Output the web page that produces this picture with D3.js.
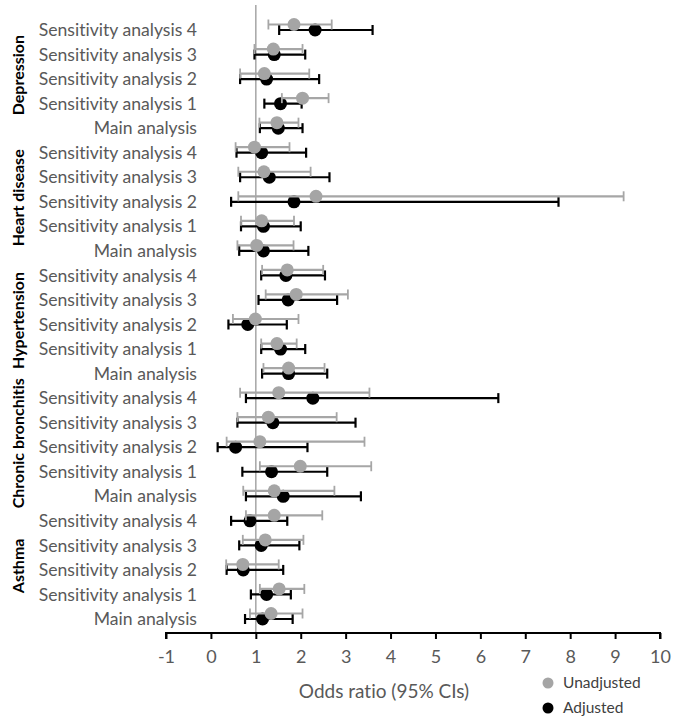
<!DOCTYPE html>
<html>
<head>
<meta charset="utf-8">
<script src="https://cdn.jsdelivr.net/npm/d3@7"></script>
<style>
  html, body { margin: 0; padding: 0; background: #fff; }
  svg { display: block; font-family: Lato, "Open Sans", sans-serif; font-variant-ligatures: none; }
</style>
</head>
<body>
<svg id="chart" width="694" height="719"></svg>
<script>
// ---- data (top to bottom) ----
const groups = ["Depression", "Heart disease", "Hypertension", "Chronic bronchitis", "Asthma"];
const analyses = ["Sensitivity analysis 4", "Sensitivity analysis 3", "Sensitivity analysis 2", "Sensitivity analysis 1", "Main analysis"];
const unadjOR = [1.85, 1.39, 1.19, 2.04, 1.47,  0.97, 1.18, 2.34, 1.13, 1.02,  1.70, 1.90, 0.99, 1.47, 1.73,  1.51, 1.28, 1.09, 1.99, 1.41,  1.41, 1.21, 0.71, 1.52, 1.34];
const unadjLo = [1.28, 0.97, 0.65, 1.58, 1.08,  0.55, 0.61, 0.61, 0.67, 0.59,  1.14, 1.22, 0.49, 1.12, 1.17,  0.65, 0.59, 0.35, 1.09, 0.72,  0.78, 0.71, 0.34, 1.09, 0.87];
const unadjHi = [2.69, 2.04, 2.19, 2.62, 1.95,  1.75, 2.22, 9.19, 1.85, 1.84,  2.50, 3.05, 1.95, 1.91, 2.53,  3.53, 2.80, 3.42, 3.57, 2.75,  2.48, 2.06, 1.51, 2.08, 2.04];
const adjOR   = [2.32, 1.41, 1.24, 1.55, 1.50,  1.13, 1.30, 1.85, 1.17, 1.17,  1.67, 1.72, 0.82, 1.55, 1.73,  2.27, 1.38, 0.55, 1.35, 1.61,  0.87, 1.12, 0.72, 1.24, 1.15];
const adjLo   = [1.52, 0.97, 0.65, 1.19, 1.09,  0.57, 0.65, 0.45, 0.67, 0.63,  1.12, 1.06, 0.39, 1.12, 1.14,  0.78, 0.59, 0.15, 0.70, 0.78,  0.45, 0.63, 0.35, 0.89, 0.76];
const adjHi   = [3.60, 2.10, 2.41, 2.02, 2.04,  2.12, 2.64, 7.74, 2.00, 2.17,  2.54, 2.81, 1.69, 2.10, 2.59,  6.40, 3.22, 2.15, 2.59, 3.34,  1.70, 1.97, 1.61, 1.78, 1.82];
const xTicks = [-1, 0, 1, 2, 3, 4, 5, 6, 7, 8, 9, 10];
const seriesNames = ["Unadjusted", "Adjusted"];

// ---- build rows ----
const rows = [];
groups.forEach((g, gi) => analyses.forEach((a, ai) => {
  const i = gi * analyses.length + ai;
  rows.push({ id: i, group: g, label: a,
    u: unadjOR[i], ul: unadjLo[i], uh: unadjHi[i],
    a: adjOR[i], al: adjLo[i], ah: adjHi[i] });
}));

const svg = d3.select("#chart");
const x = d3.scaleLinear().domain([-1, 10]).range([166, 660]);
const y = d3.scalePoint().domain(rows.map(r => r.id)).range([30, 619]);
const axisY = 633;
const offU = -5.5;

const grayDot = "#a5a5a5";
const grayBar = "#a6a6a6";
const textGray = "#595959";

// reference line at OR = 1
svg.append("line")
  .attr("x1", x(1)).attr("x2", x(1))
  .attr("y1", 5).attr("y2", axisY)
  .attr("stroke", "#a5a5a5").attr("stroke-width", 1.5);

// x axis
const axis = d3.axisBottom(x).tickValues(xTicks).tickSize(6).tickPadding(11).tickFormat(d => String(d));
const ax = svg.append("g").attr("transform", `translate(0,${axisY})`).call(axis);
ax.select(".domain").attr("stroke", "#000").attr("stroke-width", 2).attr("d", `M${x(-1)},6V0H${x(10)}V6`);
ax.selectAll(".tick line").attr("stroke", "#000").attr("stroke-width", 2);
ax.selectAll(".tick text").attr("fill", textGray).style("font-size", "18px").attr("font-family", "Lato, sans-serif");

svg.append("text")
  .attr("x", 384).attr("y", 698)
  .attr("text-anchor", "middle")
  .attr("fill", textGray).style("font-size", "19px")
  .text("Odds ratio (95% CIs)");

// row labels
svg.append("g").selectAll("text").data(rows).join("text")
  .attr("x", 197).attr("y", d => y(d.id)).attr("dy", "0.35em")
  .attr("text-anchor", "end").attr("fill", textGray).style("font-size", "17.6px")
  .text(d => d.label);

// group labels
svg.append("g").selectAll("text").data(groups).join("text")
  .attr("transform", (g, gi) => {
    const ids = rows.filter(r => r.group === g).map(r => y(r.id));
    const cy = (d3.min(ids) + d3.max(ids)) / 2 - 4;
    return `translate(24,${cy}) rotate(-90)`;
  })
  .attr("text-anchor", "middle").attr("fill", "#000")
  .style("font-size", "16px").style("font-weight", "bold")
  .text(g => g);

// error bars helper
function drawSeries(lo, hi, off, color, barW, capW) {
  const g = svg.append("g");
  g.selectAll("line.bar").data(rows).join("line")
    .attr("x1", d => x(d[lo])).attr("x2", d => x(d[hi]))
    .attr("y1", d => y(d.id) + off).attr("y2", d => y(d.id) + off)
    .attr("stroke", color).attr("stroke-width", barW);
  g.selectAll("line.capl").data(rows).join("line")
    .attr("x1", d => x(d[lo])).attr("x2", d => x(d[lo]))
    .attr("y1", d => y(d.id) + off - 5).attr("y2", d => y(d.id) + off + 5)
    .attr("stroke", color).attr("stroke-width", capW);
  g.selectAll("line.caph").data(rows).join("line")
    .attr("x1", d => x(d[hi])).attr("x2", d => x(d[hi]))
    .attr("y1", d => y(d.id) + off - 5).attr("y2", d => y(d.id) + off + 5)
    .attr("stroke", color).attr("stroke-width", capW);
  return g;
}

// adjusted (black) first, unadjusted (grey) on top
drawSeries("al", "ah", 0, "#000", 2.2, 2.2);
svg.append("g").selectAll("circle").data(rows).join("circle")
  .attr("cx", d => x(d.a)).attr("cy", d => y(d.id)).attr("r", 6.5).attr("fill", "#000");

drawSeries("ul", "uh", offU, grayBar, 2.2, 1.8);
svg.append("g").selectAll("circle").data(rows).join("circle")
  .attr("cx", d => x(d.u)).attr("cy", d => y(d.id) + offU).attr("r", 6.5).attr("fill", grayDot);

// legend
const leg = svg.append("g");
const legColors = [grayDot, "#000"];
seriesNames.forEach((s, i) => {
  const ly = 683 + i * 25;
  leg.append("circle").attr("cx", 548).attr("cy", ly).attr("r", 5.5).attr("fill", legColors[i]);
  leg.append("text").attr("x", 563).attr("y", ly).attr("dy", "0.35em")
    .attr("fill", "#404040").style("font-size", "15.5px").text(s);
});
</script>
</body>
</html>
